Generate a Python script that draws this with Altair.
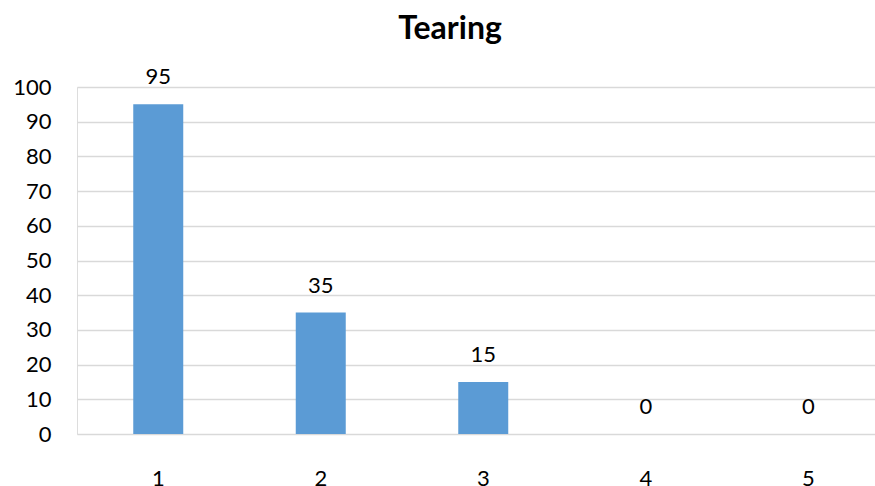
import altair as alt
import pandas as pd

# Tearing score counts per rating
categories = ["1", "2", "3", "4", "5"]
counts = [95, 35, 15, 0, 0]

df = pd.DataFrame({"rating": categories, "count": counts})

FONT = "Lato"

x_enc = alt.X(
    "rating:N",
    sort=categories,
    scale=alt.Scale(range=[0, 812.5], paddingInner=0, paddingOuter=0),
    axis=alt.Axis(
        title=None, labelAngle=0, domain=False, ticks=False,
        labelPadding=34, labelFontSize=22, labelFont=FONT, labelColor="#000000",
        grid=False,
    ),
)
y_enc = alt.Y(
    "count:Q",
    scale=alt.Scale(domain=[0, 100]),
    axis=alt.Axis(
        title=None, values=list(range(0, 101, 10)), domain=False, ticks=False,
        labelPadding=26, labelFontSize=22, labelFont=FONT, labelColor="#000000",
        gridColor="#d9d9d9", gridWidth=1.5,
    ),
)

bars = alt.Chart(df).mark_bar(width=50, color="#5b9bd5").encode(x=x_enc, y=y_enc)

labels = alt.Chart(df).mark_text(
    baseline="alphabetic", dy=-20, fontSize=22, font=FONT, color="#000000"
).encode(x=x_enc, y=y_enc, text="count:Q")

chart = (
    alt.layer(bars, labels)
    .properties(
        width=798,
        height=347,
        autosize=alt.AutoSizeParams(type="none"),
        padding={"left": 77, "top": 87, "right": 0, "bottom": 52},
        title=alt.TitleParams(
            "Tearing", font=FONT, fontSize=32, fontWeight="bold", color="#000000",
            anchor="middle", frame="group", dx=-26, offset=20,
        ),
    )
    .configure_view(stroke=None)
    .configure(background="#ffffff")
)

chart.save("out.html", embed_options={"renderer": "svg", "actions": False})
